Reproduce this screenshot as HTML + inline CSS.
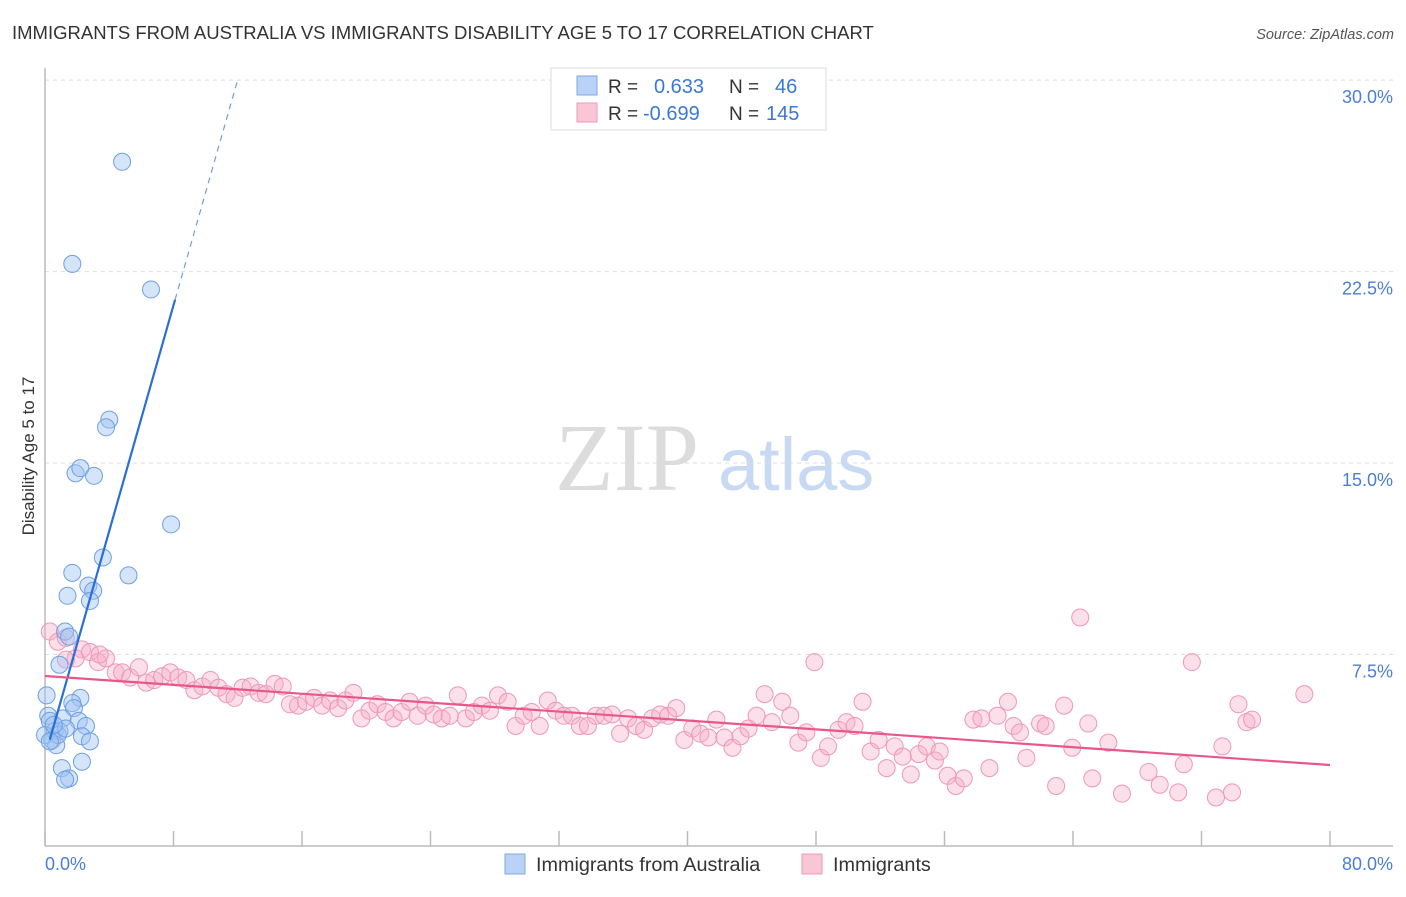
<!DOCTYPE html>
<html><head><meta charset="utf-8"><style>
body{margin:0;background:#fff;font-family:"Liberation Sans",sans-serif;}
</style></head><body>
<svg id="chart" width="1406" height="892" viewBox="0 0 1406 892" xmlns="http://www.w3.org/2000/svg" font-family="Liberation Sans, sans-serif">
<text x="12" y="39" font-size="18.5" fill="#333">IMMIGRANTS FROM AUSTRALIA VS IMMIGRANTS DISABILITY AGE 5 TO 17 CORRELATION CHART</text>
<text x="1394" y="39" font-size="14.5" fill="#555" font-style="italic" text-anchor="end">Source: ZipAtlas.com</text>
<g>
<text x="555" y="490" font-size="96" font-family="Liberation Serif, serif" fill="#dcdcdc">ZIP</text>
<text x="718" y="490" font-size="74" fill="#c8daf3">atlas</text>
</g>
<g id="grid"></g>
<line x1="45" y1="68" x2="45" y2="846" stroke="#bbb" stroke-width="1.5"/>
<line x1="45" y1="846" x2="1393" y2="846" stroke="#bbb" stroke-width="1.5"/>
<g id="ticks"></g>
<text transform="translate(34,456) rotate(-90)" font-size="17" fill="#333" text-anchor="middle">Disability Age 5 to 17</text>
<text x="45" y="870" font-size="18" fill="#4a7fd4">0.0%</text>
<text x="1393" y="870" font-size="18" fill="#4a7fd4" text-anchor="end">80.0%</text>
<g id="pinkPts"></g>
<g id="bluePts"></g>
<g id="lines"></g>
<g>
<rect x="551" y="68" width="275" height="62" fill="#fff" stroke="#ddd"/>
<rect x="577" y="76" width="20" height="19" fill="#b9d2f5" stroke="#7fa8e3"/>
<rect x="577" y="103" width="20" height="19" fill="#f9c6d6" stroke="#ee9ab8"/>
<text x="608" y="93" font-size="19" fill="#333">R =</text>
<text x="654" y="93" font-size="20" fill="#3a78d8">0.633</text>
<text x="729" y="93" font-size="19" fill="#333">N =</text>
<text x="775" y="93" font-size="20" fill="#3a78d8">46</text>
<text x="608" y="120" font-size="19" fill="#333">R =</text>
<text x="643" y="120" font-size="20" fill="#3a78d8">-0.699</text>
<text x="729" y="120" font-size="19" fill="#333">N =</text>
<text x="766" y="120" font-size="20" fill="#3a78d8">145</text>
</g>
<g>
<rect x="505" y="854" width="20" height="20" fill="#b9d2f5" stroke="#7fa8e3"/>
<text x="536" y="871" font-size="19.8" fill="#333">Immigrants from Australia</text>
<rect x="802" y="854" width="20" height="20" fill="#f9c6d6" stroke="#ee9ab8"/>
<text x="833" y="871" font-size="19.8" fill="#333">Immigrants</text>
</g>
</svg>
<script>
const yTicks=[7.5,15,22.5,30];
const yTickLabels=["7.5%","15.0%","22.5%","30.0%"];
const xTicks=[0,8,16,24,32,40,48,56,64,72,80];
const blueX=[4.8,1.7,6.6,4.0,3.8,1.9,2.2,3.05,7.85,3.6,1.7,5.2,2.7,3.0,1.4,2.8,1.25,1.5,0.9,2.2,1.7,1.8,0.1,0.2,0.3,1.1,2.1,2.55,0.6,0.9,2.3,2.8,0.45,0.7,1.05,2.3,1.5,1.25,0,0.8,1.3,0.55,0.3];
const blueY=[26.8,22.8,21.8,16.7,16.4,14.6,14.8,14.5,12.6,11.3,10.7,10.6,10.2,10.0,9.8,9.6,8.4,8.2,7.1,5.8,5.6,5.4,5.9,5.1,4.9,5.0,4.9,4.7,4.5,4.5,4.3,4.1,4.15,3.95,3.05,3.3,2.65,2.6,4.35,4.35,4.6,4.75,4.1];
const pinkX=[0.3,0.8,1.3,1.9,2.3,2.8,3.3,3.8,4.4,4.8,5.3,5.85,6.3,6.8,7.3,7.8,8.3,8.8,9.3,9.8,10.3,10.8,11.3,11.8,12.3,12.8,13.3,13.75,14.3,14.8,15.25,15.75,16.25,16.75,17.25,17.75,18.25,18.7,19.2,19.7,20.2,20.7,21.2,21.7,22.2,22.7,23.2,23.7,24.2,24.7,25.2,25.7,26.2,26.7,27.2,27.7,28.2,28.8,29.3,29.8,30.3,30.8,31.3,31.8,32.3,32.8,33.3,33.8,34.3,34.8,35.3,35.8,36.3,36.8,37.3,37.8,38.3,38.8,39.3,39.8,40.3,40.8,41.3,41.8,42.3,42.8,43.3,43.8,44.3,44.8,45.25,45.9,46.4,46.9,47.4,47.9,48.3,48.75,49.4,49.9,50.4,50.9,51.4,51.9,52.4,52.9,53.4,53.9,54.4,54.9,55.4,55.7,56.2,56.7,57.2,57.8,58.3,58.8,59.3,59.95,60.3,60.7,61.1,61.95,62.3,62.95,63.45,63.95,64.45,64.95,65.2,66.2,67.05,68.7,69.4,70.55,70.9,71.4,72.9,73.3,73.9,74.3,74.8,75.15,78.4,1.3,3.4];
const pinkY=[8.4,8.0,8.15,7.35,7.7,7.6,7.2,7.35,6.8,6.8,6.6,7.0,6.4,6.5,6.65,6.8,6.6,6.5,6.1,6.25,6.5,6.2,5.95,5.8,6.2,6.25,6.0,5.95,6.35,6.25,5.55,5.5,5.65,5.8,5.5,5.7,5.4,5.7,6.0,5.0,5.3,5.55,5.25,5.0,5.25,5.65,5.1,5.5,5.15,5.0,5.1,5.9,5.0,5.25,5.5,5.3,5.9,5.65,4.7,5.1,5.25,4.7,5.7,5.3,5.1,5.1,4.7,4.7,5.1,5.1,5.15,4.4,5.0,4.7,4.55,5.0,5.15,5.1,5.4,4.15,4.6,4.4,4.25,4.95,4.25,3.85,4.3,4.6,5.1,5.95,4.85,5.65,5.1,4.05,4.45,7.2,3.45,3.9,4.55,4.85,4.7,5.65,3.7,4.15,3.05,3.9,3.5,2.8,3.6,3.9,3.35,3.7,2.75,2.35,2.65,4.95,5.0,3.05,5.1,5.65,4.7,4.45,3.45,4.8,4.7,2.35,5.5,3.85,8.95,4.8,2.65,4.05,2.05,2.9,2.4,2.1,3.2,7.2,1.9,3.9,2.1,5.55,4.85,4.95,5.95,7.3,7.5];
const blueIntercept=3.5, blueSlope=2.21, blueSolidEnd=8.1;
const pinkIntercept=6.66, pinkSlope=-0.0436;
const NS="http://www.w3.org/2000/svg";
const X0=45,X1=1330,Y0=846,YS=25.53;
function sx(v){return X0+v/80*(X1-X0);}
function sy(v){return Y0-v*YS;}
function mk(tag,attrs,parent){const e=document.createElementNS(NS,tag);for(const k in attrs)e.setAttribute(k,attrs[k]);document.getElementById(parent).appendChild(e);return e;}
yTicks.forEach((t,i)=>{
 const l=mk('line',{x1:45,x2:1393,y1:sy(t),y2:sy(t),stroke:'#ddd','stroke-dasharray':'4,4'},'grid');
 
 
 const tx=mk('text',{x:1393,y:sy(t)+23,'font-size':18,fill:'#4a7fd4','text-anchor':'end'},'grid');
 tx.textContent=yTickLabels[i];
 
 
});
xTicks.forEach(t=>{
 const l=mk('line',{x1:sx(t),x2:sx(t),y1:831,y2:846,stroke:'#bbb','stroke-width':1.5},'ticks');
 
 
});
pinkX.forEach((v,i)=>{
 const c=mk('circle',{cx:sx(v),cy:sy(pinkY[i]),r:8.5,fill:'rgba(246,176,200,0.4)',stroke:'#ef97b6','stroke-width':1},'pinkPts');
 
 
});
blueX.forEach((v,i)=>{
 const c=mk('circle',{cx:sx(v),cy:sy(blueY[i]),r:8.5,fill:'rgba(160,195,242,0.45)',stroke:'#6f9fe2','stroke-width':1},'bluePts');
 
 
});
const bx0=0.3, bxe=(30-blueIntercept)/blueSlope;
const b1=mk('line',{x1:sx(bx0),y1:sy(blueIntercept+blueSlope*bx0),x2:sx(blueSolidEnd),y2:sy(blueIntercept+blueSlope*blueSolidEnd),stroke:'#2a6fd6','stroke-width':2.2},'lines');


const b2=mk('line',{x1:sx(blueSolidEnd),y1:sy(blueIntercept+blueSlope*blueSolidEnd),x2:sx(bxe),y2:sy(30),stroke:'#6f9fe2','stroke-width':1.2,'stroke-dasharray':'6,5'},'lines');


const p=mk('line',{x1:sx(0),y1:sy(pinkIntercept),x2:sx(80),y2:sy(pinkIntercept+pinkSlope*80),stroke:'#e8578a','stroke-width':2.2},'lines');


</script>
</body></html>
